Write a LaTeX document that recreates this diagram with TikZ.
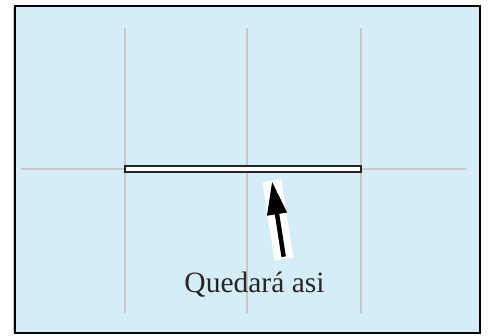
\documentclass[tikz,border=0pt]{standalone}
\usepackage{fontspec}
\setmainfont{Liberation Serif}
\usepackage{xcolor}
\usetikzlibrary{arrows.meta, positioning, calc}
\definecolor{skyfill}{HTML}{D4EDF7}
\definecolor{gridgray}{HTML}{C8C8C8}

\begin{document}
\begin{tikzpicture}[
  x=1pt, y=-1pt,
  frame/.style={draw=black, line width=2.5pt, fill=skyfill},
  guide/.style={draw=gridgray, line width=2.6pt},
  bar/.style={draw=black!85, line width=2pt, fill=white},
  backing/.style={draw=white, line width=19pt},
  arrow/.style={-{Triangle[length=33pt, width=19pt]}, line width=4.5pt, black},
  label/.style={font=\fontsize{29.5}{34}\selectfont, text=black!85, inner sep=0pt, anchor=base},
]
  \useasboundingbox (0,0) rectangle (492,335);

  % Frame
  \draw[gridgray, line width=1pt] (13,7) -- (13,333);
  \draw[frame] (15,6) rectangle (480,333);

  % Guide lines
  \draw[guide] (21,169) -- (466,169);
  \foreach \gx in {125,247,361}
    \draw[guide] (\gx,28) -- (\gx,313);

  % Bar
  \draw[bar] (125,166) rectangle (361,172);
  \coordinate (bartip) at (272,181.5);

  % Label and pointer
  \node[label] (result) at (254.5,292) {Quedará asi};
  \coordinate (tail) at (284,259);
  \draw[backing] (tail) -- ($(bartip)!-1pt!(tail)$);
  \draw[arrow] ($(tail)!0.03!(bartip)$) -- (bartip);

\end{tikzpicture}
\end{document}
